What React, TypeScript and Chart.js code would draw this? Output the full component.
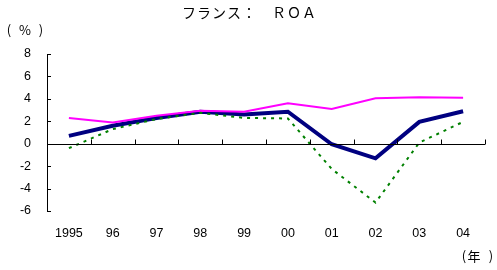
import React, { useEffect, useRef } from "react";
import { Chart, registerables } from "chart.js";

Chart.register(...registerables);

const categories = ["1995", "96", "97", "98", "99", "00", "01", "02", "03", "04"];
const seriesPink = [2.3, 1.9, 2.5, 2.95, 2.85, 3.6, 3.1, 4.05, 4.15, 4.1];
const seriesNavy = [0.7, 1.6, 2.3, 2.85, 2.6, 2.85, -0.05, -1.3, 1.95, 2.9];
const seriesGreen = [-0.4, 1.3, 2.2, 2.75, 2.3, 2.25, -2.25, -5.25, 0.1, 1.95];
const yTicks = [-6, -4, -2, 0, 2, 4, 6, 8];
const titleText = "フランス：　ＲＯＡ";
const yUnit = ["(", "%", ")"];
const xUnit = ["(", "年", ")"];

const FONT = "'Liberation Sans', Arial, sans-serif";
const JFONT = "'Noto Sans CJK JP', 'Liberation Sans', sans-serif";

const decorPlugin = {
  id: "decor",
  afterDatasetsDraw(chart: any) {
    const { ctx, chartArea, scales } = chart;
    const xs = scales.x;
    const ys = scales.y;
    ctx.save();
    ctx.strokeStyle = "#000";
    ctx.lineWidth = 1;
    const y0 = Math.round(ys.getPixelForValue(0)) + 0.5;
    ctx.beginPath();
    ctx.moveTo(chartArea.left, y0);
    ctx.lineTo(chartArea.right, y0);
    const n = categories.length;
    for (let i = 0; i <= n; i++) {
      let x;
      if (i < n) {
        const p = xs.getPixelForValue(i);
        const next = i + 1 < n ? xs.getPixelForValue(i + 1) : p + (p - xs.getPixelForValue(i - 1));
        x = p - (next - p) / 2;
      } else {
        const p = xs.getPixelForValue(n - 1);
        x = p + (p - xs.getPixelForValue(n - 2)) / 2;
      }
      x = Math.round(x) + 0.5;
      ctx.moveTo(x, y0);
      ctx.lineTo(x, y0 - 5);
    }
    for (const v of yTicks) {
      const y = Math.round(ys.getPixelForValue(v)) + 0.5;
      ctx.moveTo(chartArea.left, y);
      ctx.lineTo(chartArea.left + 4, y);
    }
    ctx.stroke();
    ctx.fillStyle = "#000";
    ctx.textBaseline = "middle";
    ctx.font = `14px ${JFONT}`;
    ctx.textAlign = "left";
    try {
      (ctx as any).letterSpacing = "1px";
    } catch (e) {}
    ctx.fillText(titleText, 182, 13);
    try {
      (ctx as any).letterSpacing = "0px";
    } catch (e) {}
    ctx.textAlign = "center";
    ctx.font = `13px ${JFONT}`;
    const yPos = [9, 25, 41];
    yUnit.forEach((c, i) => ctx.fillText(c, yPos[i], 30));
    const xPos = [464, 474, 491];
    xUnit.forEach((c, i) => ctx.fillText(c, xPos[i], 256));
    ctx.restore();
  },
};

export default function App() {
  const ref = useRef<HTMLCanvasElement | null>(null);
  useEffect(() => {
    document.body.style.margin = "0";
    if (!ref.current) return;
    const chart = new Chart(ref.current, {
      type: "line",
      data: {
        labels: categories,
        datasets: [
          {
            data: seriesNavy,
            borderColor: "#000080",
            borderWidth: 4,
            pointRadius: 0,
            order: 3,
          },
          {
            data: seriesPink,
            borderColor: "#FF00FF",
            borderWidth: 2,
            pointRadius: 0,
            order: 2,
          },
          {
            data: seriesGreen,
            borderColor: "#008000",
            borderWidth: 2,
            borderDash: [3, 5],
            pointRadius: 0,
            order: 1,
          },
        ],
      },
      options: {
        animation: false,
        responsive: false,
        maintainAspectRatio: false,
        layout: { padding: { left: 0, right: 12, top: 54, bottom: 0 } },
        plugins: { legend: { display: false }, title: { display: false }, tooltip: { enabled: false } },
        scales: {
          x: {
            type: "category",
            offset: true,
            grid: { display: false },
            border: { display: false },
            ticks: {
              color: "#000",
              font: { family: FONT, size: 12.5 },
              padding: 7,
              maxRotation: 0,
              autoSkip: false,
            },
            afterFit: (s: any) => {
              s.height = 59;
            },
          },
          y: {
            min: -6,
            max: 8,
            grid: { display: false },
            border: { display: true, color: "#000", width: 1 },
            ticks: {
              stepSize: 2,
              color: "#000",
              font: { family: FONT, size: 12.5 },
              padding: 8,
            },
            afterFit: (s: any) => {
              s.width = 47;
            },
          },
        },
      },
      plugins: [decorPlugin],
    });
    return () => chart.destroy();
  }, []);
  return (
    <div style={{ width: 497, height: 270 }}>
      <canvas ref={ref} width={497} height={270} style={{ width: 497, height: 270, display: "block" }} />
    </div>
  );
}
